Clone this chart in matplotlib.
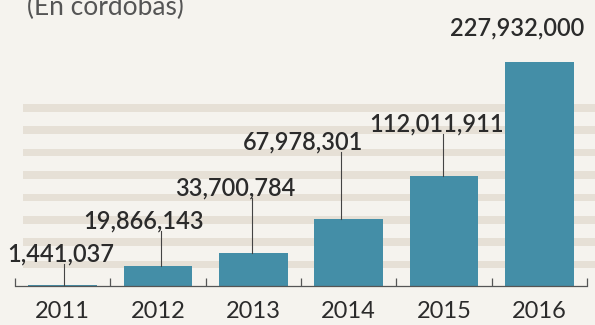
import numpy as np
import matplotlib
matplotlib.use("Agg")
import matplotlib.pyplot as plt

# --- data ---
years = ["2011", "2012", "2013", "2014", "2015", "2016"]
values = [1441037, 19866143, 33700784, 67978301, 112011911, 227932000]
value_labels = ["1,441,037", "19,866,143", "33,700,784", "67,978,301", "112,011,911", "227,932,000"]
subtitle = "(En córdobas)"

# --- layout (pixels, figure is 595x325 at dpi 100) ---
W, H = 595, 325
base_px = 286          # baseline y from top
px_per_unit = 0.983e-6  # pixels per córdoba
cat_w = 95.33
first_center = 62.7

# label offsets relative to bar centre/top, in pixels
lab_dx = [-2, -14, -18, -46, -7, -22]
lab_dy = [31, 45, 65, 77, 52, 34]
lead_dx = [1, 3, -1, -8, -1, None]

bg = "#f5f3ee"
stripe_col = "#e6e0d6"
bar_col = "#448ea7"
txt_col = "#2b2b2b"

fig = plt.figure(figsize=(W / 100, H / 100), dpi=100, facecolor=bg)
ax = fig.add_axes([0, (H - base_px) / H, 1, base_px / H])
ax.set_facecolor(bg)

x0 = (0 - first_center) / cat_w
x1 = (W - first_center) / cat_w
ax.set_xlim(x0, x1)
ax.set_ylim(0, base_px / px_per_unit)
ax.axis("off")


def dpx(py):
    return py / px_per_unit


# background stripes
for k in range(8):
    top = 104 + 22.4 * k
    ax.axhspan((base_px - top - 7.5) / px_per_unit, (base_px - top) / px_per_unit,
               xmin=(23 / W), xmax=1, color=stripe_col, lw=0, zorder=0)

# bars
xs = np.arange(len(years))
ax.bar(xs, values, width=0.72, color=bar_col, zorder=2)

# baseline and small upward ticks at category edges
ax.plot([-0.5, 5.5], [0, 0], color="#555555", lw=0.9, zorder=3, clip_on=False)
edges = np.arange(-0.5, 6.0, 1.0)
ax.vlines(edges, 0, dpx(8), color="#555555", lw=0.9, zorder=3)

# value labels with leader lines
for i, (v, lab) in enumerate(zip(values, value_labels)):
    lx = i + lab_dx[i] / cat_w
    ly = v + dpx(lab_dy[i])
    ax.text(lx, ly, lab, ha="center", va="center", fontsize=17,
            family="Lato", weight="semibold", color=txt_col, zorder=4)
    if lead_dx[i] is not None:
        xl = i + lead_dx[i] / cat_w
        ax.plot([xl, xl], [v, ly - dpx(10)], color="#444444", lw=0.8, zorder=3)

# year labels
for i, y in enumerate(years):
    ax.text(i, -dpx(26), y, ha="center", va="center", fontsize=17,
            family="Lato", weight="normal", color=txt_col, clip_on=False)

# subtitle, cut off at the top of the image
fig.text(27 / W, 1 - 15 / H, subtitle, ha="left", va="baseline", fontsize=19,
         family="Lato", weight="normal", color="#555555")

fig.savefig("out.png", dpi=100, facecolor=bg)
